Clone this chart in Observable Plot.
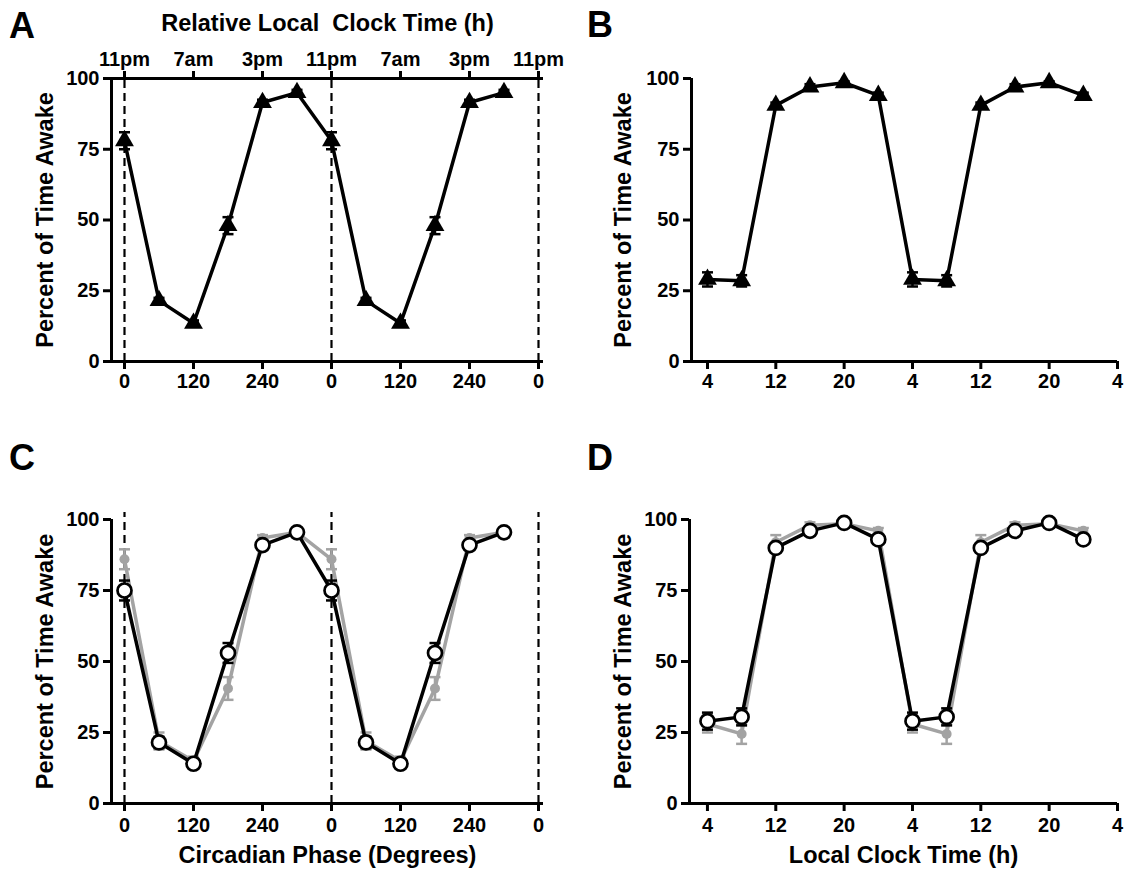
<!DOCTYPE html>
<html><head><meta charset="utf-8">
<script src="https://cdn.jsdelivr.net/npm/d3@7"></script>
<script src="https://cdn.jsdelivr.net/npm/@observablehq/plot@0.6"></script>
<style>
body{margin:0;background:#fff;}
#fig{position:relative;width:1125px;height:889px;overflow:hidden;font-family:"Liberation Sans",Arial,sans-serif;font-weight:bold;color:#000;}
#fig svg{position:absolute;overflow:visible;}
.letter{position:absolute;font-size:36px;line-height:36px;font-weight:bold;}
</style></head><body><div id="fig">
<div class="letter" style="left:9px;top:8px">A</div>
<div class="letter" style="left:587px;top:7px">B</div>
<div class="letter" style="left:9px;top:440px">C</div>
<div class="letter" style="left:587px;top:440px">D</div>
</div>
<script>
// ---- data ----
const phaseDeg = [0, 60, 120, 180, 240, 300, 360, 420, 480, 540, 600, 660];
const awakeA   = [78, 21.5, 13.5, 48, 91.5, 95, 78, 21.5, 13.5, 48, 91.5, 95];
const semA     = [3, 1, 1, 3, 1, 1, 3, 1, 1, 3, 1, 1];

const clockH   = [4, 8, 12, 16, 20, 24, 28, 32, 36, 40, 44, 48];
const awakeB   = [29, 28.5, 90.5, 97, 98.5, 94, 29, 28.5, 90.5, 97, 98.5, 94];
const semB     = [2.5, 2, 1, 1, 0.5, 1, 2.5, 2, 1, 1, 0.5, 1];

const awakeCBlack = [75, 21.5, 14, 53, 91, 95.5, 75, 21.5, 14, 53, 91, 95.5];
const semCBlack   = [3.5, 2, 1, 3.5, 1, 1, 3.5, 2, 1, 3.5, 1, 1];
const awakeCGrey  = [86, 22, 15, 40.5, 93.5, 95.5, 86, 22, 15, 40.5, 93.5, 95.5];
const semCGrey    = [3.5, 3, 1.5, 4, 1, 1, 3.5, 3, 1.5, 4, 1, 1];

const awakeDBlack = [29, 30.5, 90, 96, 98.8, 93, 29, 30.5, 90, 96, 98.8, 93];
const semDBlack   = [3, 3, 1, 1, 0.5, 1, 3, 3, 1, 1, 0.5, 1];
const awakeDGrey  = [28, 24.5, 92, 98, 98.5, 96, 28, 24.5, 92, 98, 98.5, 96];
const semDGrey    = [3, 3.5, 2.5, 1, 0.5, 1, 3, 3.5, 2.5, 1, 0.5, 1];

const phaseTicks      = [0, 120, 240, 360, 480, 600, 720];
const phaseTickLabels = ["0", "120", "240", "0", "120", "240", "0"];
const clockTopLabels  = ["11pm", "7am", "3pm", "11pm", "7am", "3pm", "11pm"];
const hourTicks       = [4, 12, 20, 28, 36, 44, 52];
const hourTickLabels  = ["4", "12", "20", "4", "12", "20", "4"];
const yTicks          = [0, 25, 50, 75, 100];
const dashedPhases    = [0, 360, 720];

const yLabel = "Percent of Time Awake";
const topTitleA = "Relative Local\u00a0 Clock Time (h)";
const xTitleC = "Circadian Phase (Degrees)";
const xTitleD = "Local Clock Time (h)";

// ---- helpers ----
const GREY = "#a3a3a3";
const capSymbol = {draw(ctx, size) { const r = Math.sqrt(size / Math.PI); ctx.moveTo(-r, 0); ctx.lineTo(r, 0); }};
const rows = (xs, ys, es) => xs.map((x, i) => ({x, y: ys[i], e: es[i]}));
const FS = 20, TFS = 23.5;

function errorMarks(data, color) {
  return [
    Plot.ruleX(data, {x: "x", y1: d => d.y - d.e, y2: d => d.y + d.e, stroke: color, strokeWidth: 2.5}),
    Plot.dot(data, {x: "x", y: d => d.y + d.e, symbol: capSymbol, r: 5.5, stroke: color, strokeWidth: 2.5}),
    Plot.dot(data, {x: "x", y: d => d.y - d.e, symbol: capSymbol, r: 5.5, stroke: color, strokeWidth: 2.5})
  ];
}

function frameMarks(xDomain, ticks, labels, opts = {}) {
  const fmt = d => labels[ticks.indexOf(d)];
  return [
    Plot.ruleX([xDomain[0]], {y1: 0, y2: 100, strokeWidth: 3}),
    Plot.ruleY([0], {x1: xDomain[0], x2: xDomain[1], strokeWidth: 3}),
    Plot.axisY({ticks: yTicks, tickSize: 8, tickPadding: 4, strokeWidth: 3, label: null, fontSize: FS, fontWeight: "bold"}),
    Plot.axisX({anchor: "bottom", ticks, tickFormat: fmt, tickSize: 8, tickPadding: opts.xPad ?? 4, strokeWidth: 3, label: null, fontSize: FS, fontWeight: "bold"}),
    Plot.text([yLabel], {frameAnchor: "left", textAnchor: "middle", lineAnchor: "middle", rotate: -90, dx: opts.yLabelDx ?? -66, fontSize: TFS, fontWeight: "bold"})
  ];
}

function makePlot(fig, pos, xDomain, marks) {
  const p = Plot.plot({
    width: pos.width, height: pos.height,
    marginLeft: pos.ml, marginRight: pos.mr, marginTop: pos.mt, marginBottom: pos.mb,
    x: {domain: xDomain},
    y: {domain: [0, 100]},
    style: {fontFamily: '"Liberation Sans", Arial, sans-serif', fontWeight: "bold", fontSize: FS + "px", color: "#000", background: "transparent", overflow: "visible"},
    marks
  });
  p.style.left = pos.left + "px";
  p.style.top = pos.top + "px";
  fig.appendChild(p);
}

const fig = document.getElementById("fig");
const xPhase = [-22.6, 728.7];
const xHourB = [2.13, 52];
const xHourD = [1.9, 52];

// ---- Panel A ----
{
  const d = rows(phaseDeg, awakeA, semA);
  makePlot(fig, {left: 0, top: 0, width: 575, height: 400, ml: 111, mr: 32, mt: 78, mb: 39}, xPhase, [
    ...frameMarks(xPhase, phaseTicks, phaseTickLabels),
    Plot.ruleY([100], {x1: xPhase[0], x2: xPhase[1], strokeWidth: 3}),
    Plot.axisX({anchor: "top", ticks: phaseTicks, tickFormat: v => clockTopLabels[phaseTicks.indexOf(v)], tickSize: 8, tickPadding: 5, strokeWidth: 3, label: null, fontSize: FS, fontWeight: "bold"}),
    Plot.text([topTitleA], {frameAnchor: "top", lineAnchor: "middle", dy: -55, fontSize: TFS, fontWeight: "bold"}),
    Plot.ruleX(dashedPhases, {y1: 0, y2: 100, strokeWidth: 2.2, strokeDasharray: "8,5"}),
    ...errorMarks(d, "#000"),
    Plot.line(d, {x: "x", y: "y", stroke: "#000", strokeWidth: 3.5}),
    Plot.dot(d, {x: "x", y: "y", symbol: "triangle", r: 7, fill: "#000"})
  ]);
}

// ---- Panel B ----
{
  const d = rows(clockH, awakeB, semB);
  makePlot(fig, {left: 560, top: 0, width: 565, height: 400, ml: 131, mr: 8, mt: 78, mb: 39}, xHourB, [
    ...frameMarks(xHourB, hourTicks, hourTickLabels, {yLabelDx: -68}),
    ...errorMarks(d, "#000"),
    Plot.line(d, {x: "x", y: "y", stroke: "#000", strokeWidth: 3.5}),
    Plot.dot(d, {x: "x", y: "y", symbol: "triangle", r: 7, fill: "#000"})
  ]);
}

// ---- Panel C ----
{
  const g = rows(phaseDeg, awakeCGrey, semCGrey);
  const b = rows(phaseDeg, awakeCBlack, semCBlack);
  makePlot(fig, {left: 0, top: 440, width: 575, height: 449, ml: 111, mr: 32, mt: 79, mb: 86}, xPhase, [
    ...frameMarks(xPhase, phaseTicks, phaseTickLabels, {xPad: 6}),
    Plot.ruleX(dashedPhases, {y1: 0, y2: 102.5, strokeWidth: 2.2, strokeDasharray: "8,5"}),
    Plot.text([xTitleC], {frameAnchor: "bottom", lineAnchor: "middle", dy: 52, fontSize: TFS, fontWeight: "bold"}),
    ...errorMarks(g, GREY),
    Plot.line(g, {x: "x", y: "y", stroke: GREY, strokeWidth: 3.5}),
    Plot.dot(g, {x: "x", y: "y", r: 5, fill: GREY}),
    ...errorMarks(b, "#000"),
    Plot.line(b, {x: "x", y: "y", stroke: "#000", strokeWidth: 3.5}),
    Plot.dot(b, {x: "x", y: "y", r: 7, fill: "#fff", stroke: "#000", strokeWidth: 2.7})
  ]);
}

// ---- Panel D ----
{
  const g = rows(clockH, awakeDGrey, semDGrey);
  const b = rows(clockH, awakeDBlack, semDBlack);
  makePlot(fig, {left: 560, top: 440, width: 565, height: 449, ml: 129, mr: 8, mt: 79, mb: 86}, xHourD, [
    ...frameMarks(xHourD, hourTicks, hourTickLabels, {yLabelDx: -66, xPad: 6}),
    Plot.text([xTitleD], {frameAnchor: "bottom", lineAnchor: "middle", dy: 52, fontSize: TFS, fontWeight: "bold"}),
    ...errorMarks(g, GREY),
    Plot.line(g, {x: "x", y: "y", stroke: GREY, strokeWidth: 3.5}),
    Plot.dot(g, {x: "x", y: "y", r: 5, fill: GREY}),
    ...errorMarks(b, "#000"),
    Plot.line(b, {x: "x", y: "y", stroke: "#000", strokeWidth: 3.5}),
    Plot.dot(b, {x: "x", y: "y", r: 7, fill: "#fff", stroke: "#000", strokeWidth: 2.7})
  ]);
}
</script></body></html>
